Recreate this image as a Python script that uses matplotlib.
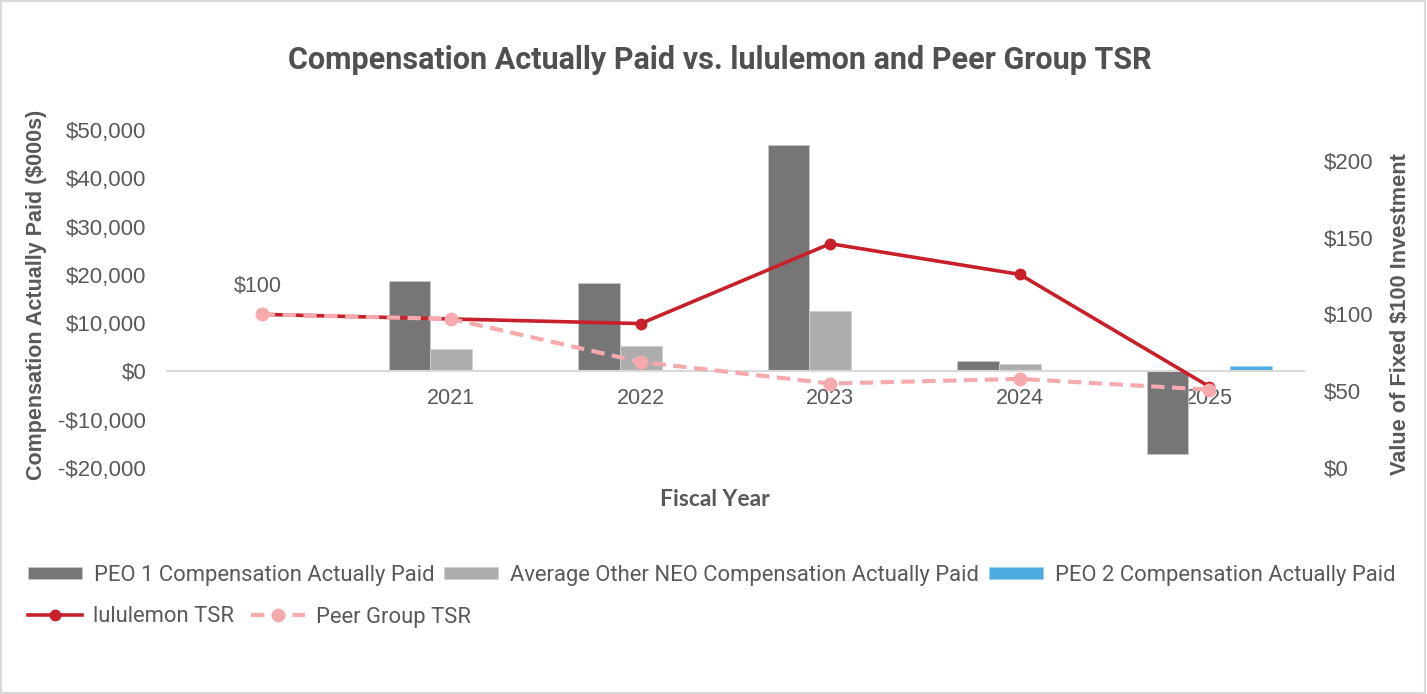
import matplotlib
matplotlib.use("Agg")
import matplotlib.pyplot as plt
import numpy as np
from matplotlib.patches import Rectangle
from matplotlib.ticker import FuncFormatter

# ---------------- data ----------------
categories = ["", "2021", "2022", "2023", "2024", "2025"]
peo1_cap = [np.nan, 18800, 18300, 46850, 2200, -17200]
neo_cap = [np.nan, 4600, 5350, 12550, 1450, np.nan]
peo2_cap = [np.nan, np.nan, np.nan, np.nan, np.nan, 1100]
lulu_tsr = [100, 97, 94, 146, 126, 53]
peer_tsr = [100, 97, 69, 55, 58, 51]

left_ticks = [-20000, -10000, 0, 10000, 20000, 30000, 40000, 50000]
right_ticks = [0, 50, 100, 150, 200]

TXT = "#595959"
FONT = "Liberation Sans"

fig = plt.figure(figsize=(14.27, 6.94), dpi=100)
fig.add_artist(Rectangle((0.0005, 0.001), 0.998, 0.997, transform=fig.transFigure,
                         fill=False, edgecolor="#d9d9d9", linewidth=1.5))

ax = fig.add_axes([167 / 1427, 1 - 468 / 694, (1304 - 167) / 1427, (468 - 130) / 694])
x = np.arange(len(categories))
w = 0.22
ax.bar(x - w, peo1_cap, w, color="#767676", edgecolor="#c8c8c8", linewidth=0.6,
       label="PEO 1 Compensation Actually Paid", zorder=2)
ax.bar(x, neo_cap, w, color="#adadad", edgecolor="#d0d0d0", linewidth=0.6,
       label="Average Other NEO Compensation Actually Paid", zorder=2)
ax.bar(x + w, peo2_cap, w, color="#4eade0", edgecolor="#9fd0ea", linewidth=0.6,
       label="PEO 2 Compensation Actually Paid", zorder=2)

ax.set_xlim(-0.5, len(categories) - 0.5)
ax.set_ylim(-20000, 50000)
ax.set_yticks(left_ticks)
ax.yaxis.set_major_formatter(FuncFormatter(lambda v, p: ("-$" if v < 0 else "$") + f"{abs(int(v)):,}"))
for s in ["top", "right", "left"]:
    ax.spines[s].set_visible(False)
ax.spines["bottom"].set_position(("data", 0))
ax.spines["bottom"].set_color("#d9d9d9")
ax.spines["bottom"].set_linewidth(1.5)
ax.set_xticks(x)
ax.set_xticklabels(categories)
ax.tick_params(axis="x", length=0, pad=12, labelsize=15.5, labelcolor=TXT)
ax.tick_params(axis="y", length=0, pad=15, labelsize=16, labelcolor=TXT)
for lab in ax.get_xticklabels() + ax.get_yticklabels():
    lab.set_fontfamily(FONT)

ax2 = ax.twinx()
ax2.set_ylim(0, 220)
ax2.set_yticks(right_ticks)
ax2.yaxis.set_major_formatter(FuncFormatter(lambda v, p: f"${int(v)}"))
for s in ["top", "right", "left", "bottom"]:
    ax2.spines[s].set_visible(False)
ax2.tick_params(axis="y", length=0, pad=14, labelsize=16, labelcolor=TXT)
for lab in ax2.get_yticklabels():
    lab.set_fontfamily(FONT)

ax2.plot(x, lulu_tsr, color="#c8202a", linewidth=2.6, marker="o", markersize=7.5,
         label="lululemon TSR", zorder=3)
ax2.plot(x, peer_tsr, color="#f6aaad", linewidth=3.0, linestyle=(0, (3.2, 1.8)),
         marker="o", markersize=9, label="Peer Group TSR", zorder=4)

ax2.annotate("$100", xy=(x[0], peer_tsr[0]), xytext=(x[0] - 0.02, peer_tsr[0] + 18),
             ha="center", va="center", fontsize=15.5, color=TXT, fontfamily=FONT,
             arrowprops=dict(arrowstyle="-", color="#bfbfbf", lw=0.8, shrinkA=9, shrinkB=5))

# titles
fig.text(720 / 1427, 1 - 60 / 694, "Compensation Actually Paid vs. lululemon and Peer Group TSR",
         ha="center", va="center", fontsize=22, fontweight="bold", color="#505050", fontfamily="Roboto")
fig.text(715 / 1427, 1 - 500 / 694, "Fiscal Year", ha="center", va="center",
         fontsize=16.5, fontweight="bold", color=TXT, fontfamily="Lato")
fig.text(37 / 1427, 1 - 295 / 694, "Compensation Actually Paid ($000s)", ha="center", va="center",
         rotation=90, fontsize=15.5, fontweight="bold", color=TXT, fontfamily=FONT)
fig.text(1401 / 1427, 1 - 314 / 694, "Value of Fixed $100 Investment", ha="center", va="center",
         rotation=90, fontsize=15.7, fontweight="bold", color=TXT, fontfamily=FONT)

# legends
h1, l1 = ax.get_legend_handles_labels()
leg1 = fig.legend(h1, l1, loc="center left", bbox_to_anchor=(28 / 1427, 1 - 575 / 694),
                  ncol=3, frameon=False, handlelength=2.45, handleheight=0.45,
                  handletextpad=0.55, columnspacing=0.45, borderaxespad=0, borderpad=0,
                  prop=dict(family="Roboto", size=15.8))
for t in leg1.get_texts():
    t.set_color(TXT)
h2, l2 = ax2.get_legend_handles_labels()
leg2 = fig.legend(h2, l2, loc="center left", bbox_to_anchor=(28 / 1427, 1 - 617 / 694),
                  ncol=2, frameon=False, handlelength=2.45,
                  handletextpad=0.5, columnspacing=0.8, borderaxespad=0, borderpad=0,
                  prop=dict(family="Roboto", size=15.8))
for t in leg2.get_texts():
    t.set_color(TXT)

fig.savefig("out.png", dpi=100)
